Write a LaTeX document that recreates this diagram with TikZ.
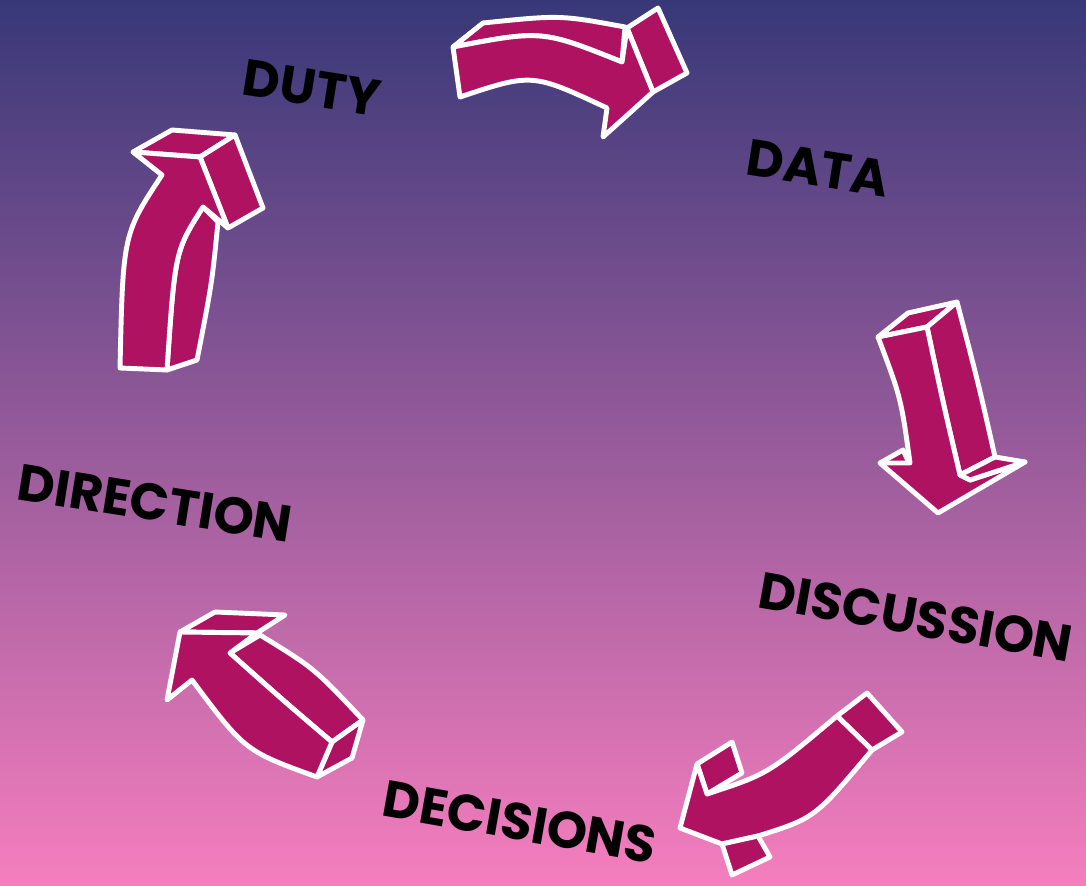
\documentclass[tikz,border=0pt]{standalone}
\usepackage{fontspec}
\setsansfont{Poppins}
\usetikzlibrary{positioning}

\definecolor{bgtop}{RGB}{56,56,120}
\definecolor{bgbot}{RGB}{246,126,190}
\definecolor{arrowfill}{RGB}{176,18,98}

\begin{document}
\begin{tikzpicture}[
    x=0.01cm, y={(0cm,-0.01cm)},
    font=\sffamily\bfseries\fontsize{14.6}{15}\selectfont,
    face/.style  ={fill=arrowfill, draw=white, line width=1.4pt, line join=round},
    word/.style  ={text=black, inner sep=0pt},
  ]

  % ------------------------------------------------------------ background ---
  \useasboundingbox (0,0) rectangle (1086,886);
  \shade[top color=bgtop, bottom color=bgbot] (0,0) rectangle (1086,886);

  % ----------------------------------------------------------------- words ---
  \node[word, rotate=-9]  (duty)   at (312,88)  {DUTY};
  \node[word, rotate=-9]  (data)   at (818,168) {DATA};
  \node[word, rotate=-10] (disc)   at (916,617) {DISCUSSION};
  \node[word, rotate=-10] (decis)  at (520,822) {DECISIONS};
  \node[word, rotate=-9]  (direc)  at (155,503) {DIRECTION};

  % ------------------------------------------------ arrow: duty -> data ---
  \filldraw[face] (453,47) -- (483,23) .. controls (560,15) .. (625,27)
        -- (622,62) .. controls (542,30) .. (453,47) -- cycle;
  \filldraw[face] (627,28) -- (658,8) -- (687,73) -- (653,92) -- cycle;
  \filldraw[face] (453,47) .. controls (542,30) .. (622,62) -- (627,28)
        -- (653,92) -- (603,137) -- (607,108) .. controls (532,73) .. (460,97) -- cycle;

  % ------------------------------------------ arrow: data -> discussion ---
  \filldraw[face] (878,337) -- (908,313) -- (957,302) -- (927,327) -- cycle;
  \filldraw[face] (957,302) .. controls (979,386) .. (995,457) -- (960,475)
        .. controls (942,398) .. (927,327) -- cycle;
  \filldraw[face] (880,463) -- (903,450) -- (910,465) -- cycle;
  \filldraw[face] (878,337) .. controls (901,398) .. (910,463) -- (880,463)
        -- (938,513) -- (1025,462) -- (970,480) -- (960,475)
        .. controls (942,398) .. (927,327) -- cycle;
  \filldraw[face] (960,475) -- (995,457) -- (1025,462) -- (970,480) -- cycle;

  % ------------------------------------- arrow: discussion -> decisions ---
  \filldraw[face] (837,716) -- (867,693) -- (902,732) -- (872,750) -- cycle;
  \filldraw[face] (697,764) -- (732,742) -- (742,773) -- (707,794) -- cycle;
  \filldraw[face] (837,716) .. controls (768,774) .. (707,794) -- (697,764)
        -- (680,828) -- (722,844) -- (758,836) .. controls (815,818) .. (872,750) -- cycle;
  \filldraw[face] (722,844) -- (758,836) -- (770,857) -- (732,875) -- cycle;

  % -------------------------------------- arrow: decisions -> direction ---
  \filldraw[face] (180,632) -- (215,612) -- (285,615) -- (257,633) -- cycle;
  \filldraw[face] (230,653) -- (260,635) .. controls (314,668) .. (363,720)
        -- (332,742) .. controls (285,702) .. (230,653) -- cycle;
  \filldraw[face] (332,742) -- (363,720) -- (352,758) -- (317,777) -- cycle;
  \filldraw[face] (180,632) -- (167,700) -- (192,680) .. controls (245,751) .. (317,777)
        -- (332,742) .. controls (285,702) .. (230,653) -- (257,633) -- cycle;

  % ------------------------------------------ arrow: direction -> duty ---
  \filldraw[face] (133,152) -- (172,130) -- (235,135) -- (200,157) -- cycle;
  \filldraw[face] (200,157) -- (235,135) -- (263,208) -- (228,228) -- cycle;
  \filldraw[face] (203,207) -- (218,222) .. controls (212,283) .. (197,360)
        -- (167,370) .. controls (175,251) .. (203,207) -- cycle;
  \filldraw[face] (120,368) .. controls (123,234) .. (162,175) -- (133,152)
        -- (200,157) -- (228,228) -- (203,207) .. controls (175,251) .. (167,370) -- cycle;

\end{tikzpicture}
\end{document}
